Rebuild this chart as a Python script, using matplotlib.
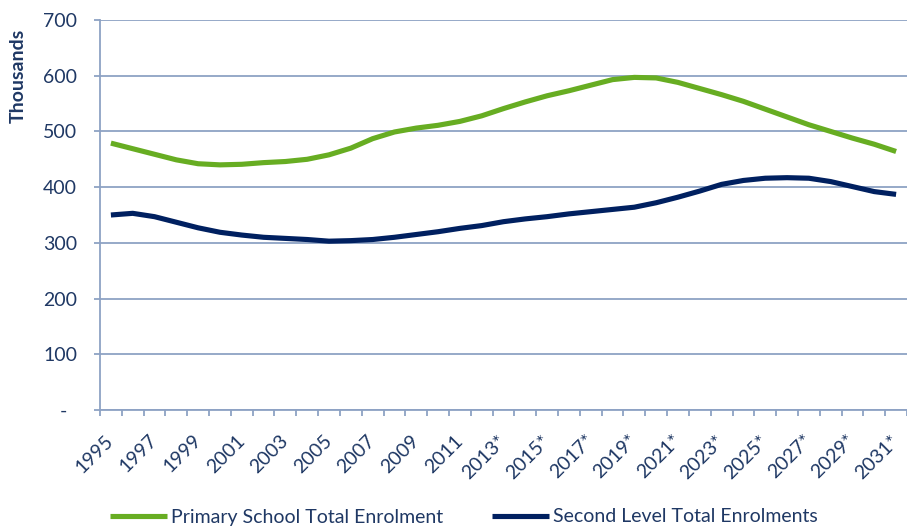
import matplotlib
matplotlib.use("Agg")
import matplotlib.pyplot as plt
import numpy as np

years = list(range(1995, 2032))
primary = [479, 469, 459, 449, 442, 440, 441, 444, 446, 450, 458, 470, 487, 499, 506, 511,
           518, 528, 541, 553, 564, 573, 583, 593, 597, 596, 588, 577, 566, 554, 540, 526,
           512, 500, 488, 477, 464]
second = [350, 353, 347, 337, 327, 319, 314, 310, 308, 306, 303, 304, 306, 310, 315, 320,
          326, 331, 338, 343, 347, 352, 356, 360, 364, 372, 382, 393, 405, 412, 416, 417,
          416, 410, 401, 392, 387]
tick_years = years[::2]
tick_labels = [f"{y}*" if y >= 2013 else str(y) for y in tick_years]
y_ticks = [0, 100, 200, 300, 400, 500, 600, 700]
y_labels = ["-  " if v == 0 else str(v) for v in y_ticks]

font = "Lato"
navy_text = "#1F3864"
grid_c = "#8EA2C4"
green = "#67AD22"
navy = "#002060"
fs = 14

plt.rcParams['font.family'] = [font, 'DejaVu Sans']

fig = plt.figure(figsize=(9.07, 5.29), dpi=100)
ax = fig.add_axes([100/907, 119/529, 807/907, 390/529])

x = np.arange(len(years))
ax.plot(x, primary, color=green, lw=3.7, solid_capstyle='butt', label="Primary School Total Enrolment")
ax.plot(x, second, color=navy, lw=3.7, solid_capstyle='butt', label="Second Level Total Enrolments")

ax.set_ylim(0, 700)
ax.set_xlim(-0.5, (907 - 100) / 22.07 - 0.5)
ax.set_yticks(y_ticks)
ax.set_yticklabels(y_labels, color=navy_text, fontsize=fs)
ax.grid(axis='y', color=grid_c, lw=1.3)
ax.set_axisbelow(True)

tick_pos = [years.index(y) for y in tick_years]
ax.set_xticks(tick_pos)
ax.set_xticklabels(tick_labels, rotation=45, ha='right', va='center',
                   rotation_mode='anchor', color=navy_text, fontsize=fs)
ax.tick_params(axis='x', which='major', length=0, pad=20)
ax.set_xticks(np.arange(-0.5, len(years), 1.0), minor=True)
ax.tick_params(axis='x', which='minor', length=4.5, width=1.3, color=grid_c, direction='out')
ax.tick_params(axis='y', length=4.5, width=1.3, color=grid_c, pad=12)

for s in ['top', 'right']:
    ax.spines[s].set_visible(False)
for s in ['left', 'bottom']:
    ax.spines[s].set_color(grid_c)
    ax.spines[s].set_linewidth(1.3)

fig.text(18/907, 1 - 76/529, "Thousands", rotation=90, ha='center', va='center',
         fontsize=fs, fontweight='bold', color=navy_text)

fig.legend(loc='center', bbox_to_anchor=(464/907, 1 - 517/529), ncol=2, frameon=False,
           fontsize=fs, handlelength=2.9, handletextpad=0.2, columnspacing=2.55,
           labelcolor=navy_text)

fig.savefig("out.png", dpi=100)
